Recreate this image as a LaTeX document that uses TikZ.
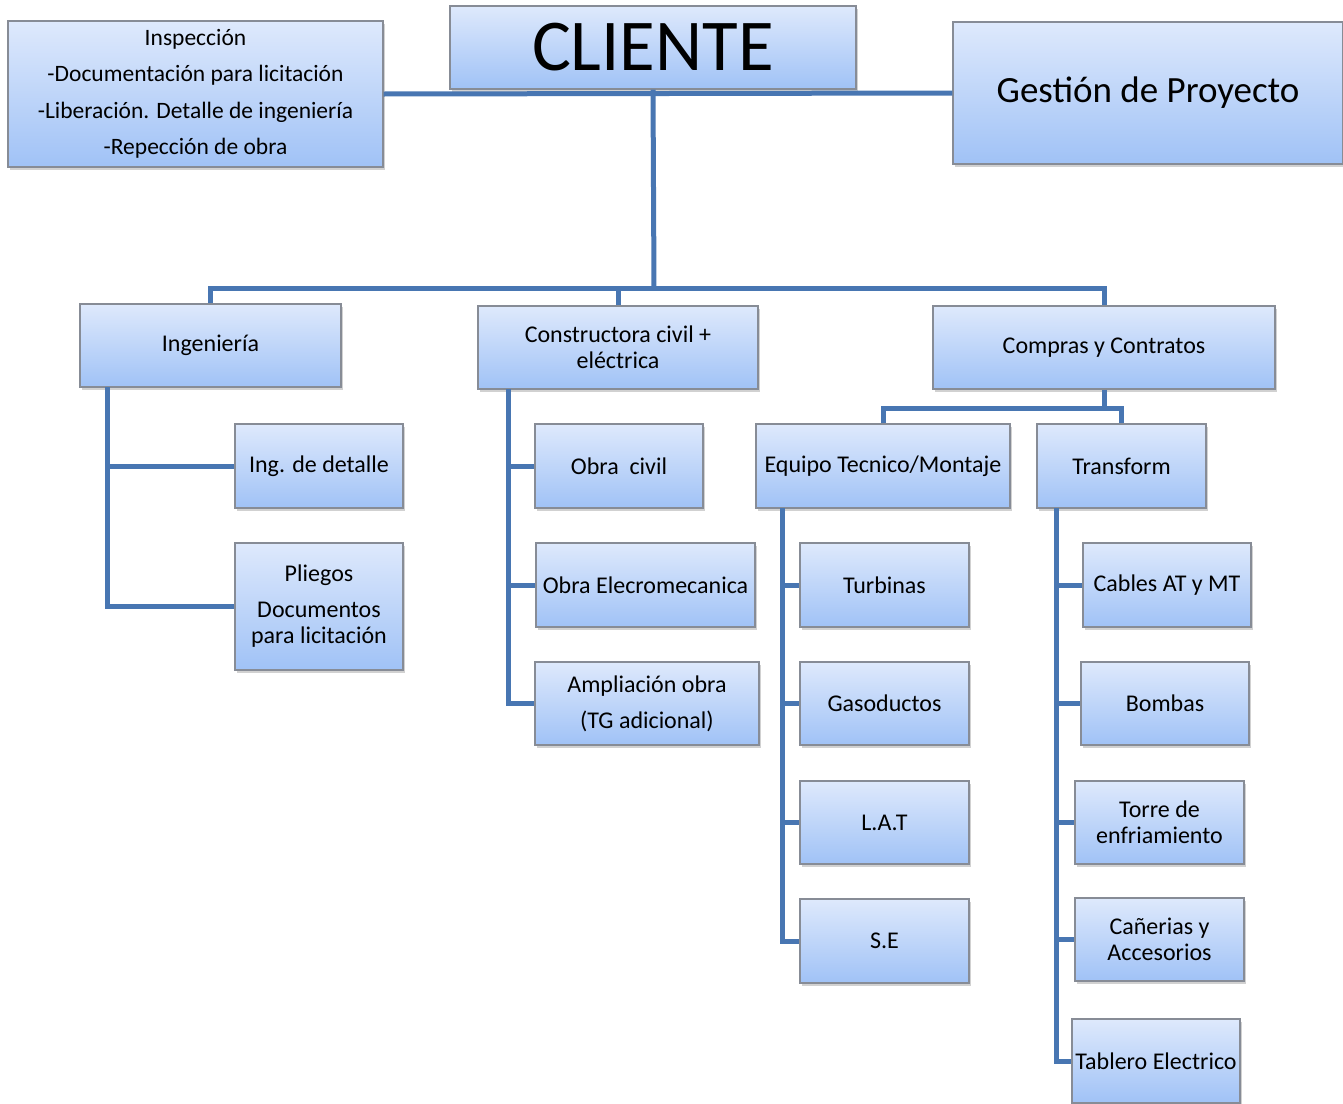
\documentclass[tikz,border=0pt]{standalone}
\usepackage{fontspec}
\setmainfont{Carlito}
\usetikzlibrary{shadows}
\definecolor{boxtop}{RGB}{222,233,252}
\definecolor{boxbot}{RGB}{160,194,246}
\definecolor{boxline}{RGB}{135,140,150}
\definecolor{conncol}{RGB}{72,118,178}
\tikzset{
  box/.style={draw=boxline, line width=1.2pt, top color=boxtop, bottom color=boxbot,
    align=center, inner sep=0pt, font=\fontsize{24}{26}\selectfont,
    drop shadow={shadow xshift=2pt, shadow yshift=-3pt, opacity=0.3, fill=black!60}},
  conn/.style={draw=conncol, line width=5pt, line join=miter},
}
\newcommand{\bx}[7][]{% [style] name, left, top, right, bottom, text
  \node[box, minimum width={(#5-#3)*1pt}, minimum height={(#6-#4)*1pt}, #1] (#2) at ({(#3+#5)/2},{(#4+#6)/2}) {#7};}
\begin{document}
\begin{tikzpicture}[x=1pt,y=-1pt]
\useasboundingbox (0,0) rectangle (1343,1103);
\coordinate (bus) at (654,288);
\coordinate (csplit) at (1104,408);
\coordinate (ingt) at (107,387);
\coordinate (const) at (508,389);
\coordinate (eqt) at (782,508);
\coordinate (trt) at (1056,508);
% boxes
\bx[font=\fontsize{23.5}{36.5}\selectfont]{insp}{8}{21}{383}{167}{Inspección\\-Documentación para licitación\\-Liberación. Detalle de ingeniería\\-Repección de obra}
\bx[font=\fontsize{73}{73}\selectfont]{cli}{450}{6}{856}{89}{CLIENTE}
\bx[font=\fontsize{37}{40}\selectfont]{gest}{953}{22}{1343}{164}{Gestión de Proyecto}
\bx{ing}{80}{304}{341}{387}{Ingeniería}
\bx{cons}{478}{306}{758}{389}{Constructora civil +\\eléctrica}
\bx{comp}{933}{306}{1275}{389}{Compras y Contratos}
\bx{det}{235}{424}{403}{508}{Ing. de detalle}
\bx{pli}{235}{543}{403}{670}{Pliegos\\[10pt]Documentos\\para licitación}
\bx{oc}{535}{424}{703}{508}{Obra\ \ civil}
\bx{oe}{536}{543}{755}{627}{Obra Elecromecanica}
\bx{amp}{535}{662}{759}{745}{Ampliación obra\\[10pt](TG adicional)}
\bx{eq}{756}{424}{1010}{508}{Equipo Tecnico/Montaje}
\bx{tr}{1037}{424}{1206}{508}{Transform}
\bx{tur}{800}{543}{969}{627}{Turbinas}
\bx{gas}{800}{662}{969}{745}{Gasoductos}
\bx{lat}{800}{781}{969}{864}{L.A.T}
\bx{se}{800}{899}{969}{983}{S.E}
\bx{cab}{1083}{543}{1251}{627}{Cables AT y MT}
\bx{bom}{1081}{662}{1249}{745}{Bombas}
\bx{tor}{1075}{781}{1244}{864}{Torre de\\enfriamiento}
\bx{can}{1075}{898}{1244}{981}{Cañerias y\\Accesorios}
\bx{tab}{1072}{1019}{1240}{1103}{Tablero Electrico}
% connectors
\draw[conn] (insp.east) -- (gest.west);
\draw[conn] (cli.south) -- (bus);
\draw[conn] (ing.north) |- (bus) -| (comp.north);
\draw[conn] (cons.north) -- (cons.north |- bus);
\draw[conn] (ingt) |- (det.west);
\draw[conn] (ingt) |- (pli.west);
\draw[conn] (const) |- (oc.west);
\draw[conn] (const) |- (oe.west);
\draw[conn] (const) |- (amp.west);
\draw[conn] (comp.south) -- (csplit);
\draw[conn] (eq.north) |- (csplit) -| (tr.north);
\draw[conn] (eqt) |- (tur.west);
\draw[conn] (eqt) |- (gas.west);
\draw[conn] (eqt) |- (lat.west);
\draw[conn] (eqt) |- (se.west);
\draw[conn] (trt) |- (cab.west);
\draw[conn] (trt) |- (bom.west);
\draw[conn] (trt) |- (tor.west);
\draw[conn] (trt) |- (can.west);
\draw[conn] (trt) |- (tab.west);
\end{tikzpicture}
\end{document}
